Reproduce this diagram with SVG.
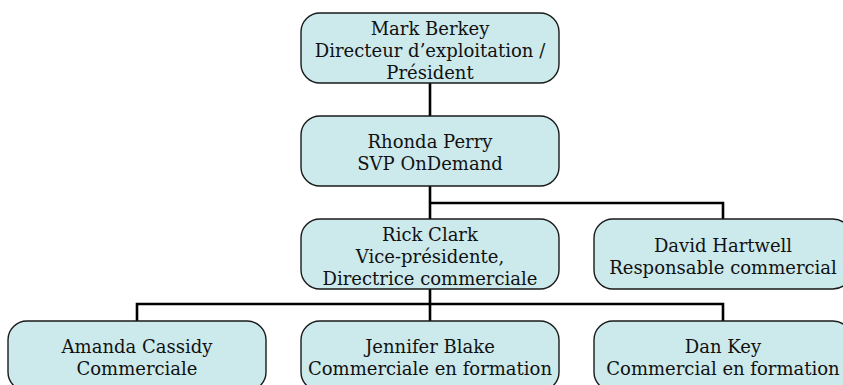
<svg xmlns="http://www.w3.org/2000/svg" width="843" height="385" viewBox="0 0 843 385">
<style>
.box{fill:#CCE9EC;stroke:#1a1a1a;stroke-width:1.4}
.t{font-family:"DejaVu Serif","Liberation Serif",serif;font-size:18px;fill:#111;text-anchor:middle}
.c{fill:none;stroke:#000;stroke-width:2.6}
</style>
<rect width="843" height="385" fill="#fff"/>
<g id="connectors">
<path class="c" d="M430 83V321"/>
<path class="c" d="M430 203H723V219"/>
<path class="c" d="M137 321V304H723V321"/>
</g>
<g id="mark">
<rect class="box" x="301" y="13" width="258" height="70" rx="19"/>
<text class="t" x="430" y="35">Mark Berkey</text>
<text class="t" x="430" y="57">Directeur d’exploitation /</text>
<text class="t" x="430" y="79">Président</text>
</g>
<g id="rhonda">
<rect class="box" x="301" y="116" width="258" height="70" rx="19"/>
<text class="t" x="430" y="148">Rhonda Perry</text>
<text class="t" x="430" y="170">SVP OnDemand</text>
</g>
<g id="rick">
<rect class="box" x="301" y="219" width="258" height="70" rx="19"/>
<text class="t" x="430" y="241">Rick Clark</text>
<text class="t" x="430" y="263">Vice-présidente,</text>
<text class="t" x="430" y="285">Directrice commerciale</text>
</g>
<g id="david">
<rect class="box" x="594" y="219" width="258" height="70" rx="19"/>
<text class="t" x="723" y="252">David Hartwell</text>
<text class="t" x="723" y="274">Responsable commercial</text>
</g>
<g id="amanda">
<rect class="box" x="8" y="321" width="258" height="70" rx="19"/>
<text class="t" x="137" y="353">Amanda Cassidy</text>
<text class="t" x="137" y="375">Commerciale</text>
</g>
<g id="jennifer">
<rect class="box" x="301" y="321" width="258" height="70" rx="19"/>
<text class="t" x="430" y="353">Jennifer Blake</text>
<text class="t" x="430" y="375">Commerciale en formation</text>
</g>
<g id="dan">
<rect class="box" x="594" y="321" width="258" height="70" rx="19"/>
<text class="t" x="723" y="353">Dan Key</text>
<text class="t" x="723" y="375">Commercial en formation</text>
</g>
</svg>
